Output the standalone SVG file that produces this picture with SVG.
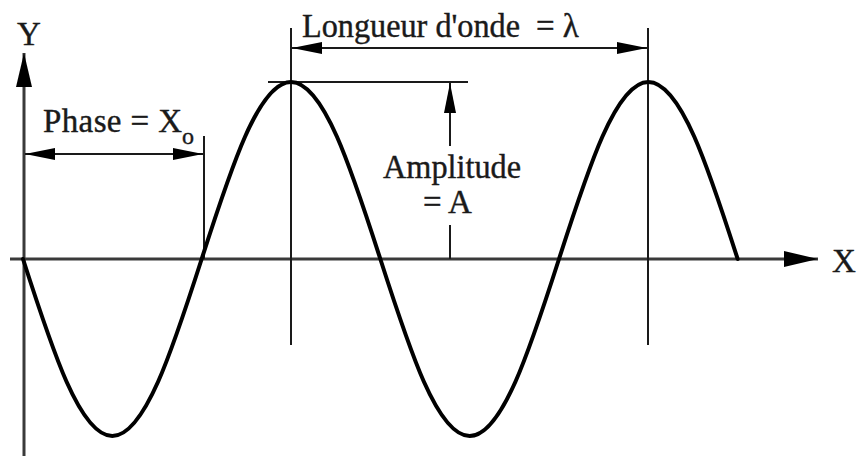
<svg xmlns="http://www.w3.org/2000/svg" width="858" height="459" viewBox="0 0 858 459">
  <style>
    .txt { font-family: "Liberation Serif", "Times New Roman", serif; font-size: 33px; fill: #1a1a1a; stroke: #1a1a1a; stroke-width: 0.4; }
    .sub { font-family: "Liberation Serif", "Times New Roman", serif; font-size: 24px; fill: #1a1a1a; stroke: #1a1a1a; stroke-width: 0.4; }
    .axis { stroke: #3a3a3a; stroke-width: 3; fill: none; }
    .thin { stroke: #1a1a1a; stroke-width: 2; fill: none; }
    .wave { stroke: #000; stroke-width: 4; fill: none; stroke-linecap: round; stroke-linejoin: round; }
  </style>
  <defs>
    <marker id="ah" markerUnits="userSpaceOnUse" viewBox="0 0 30 12" refX="30" refY="6" markerWidth="30" markerHeight="12" orient="auto-start-reverse">
      <path d="M0,0 L30,6 L0,12 Z" fill="#000"/>
    </marker>
    <marker id="axh" markerUnits="userSpaceOnUse" viewBox="0 0 34 16" refX="34" refY="8" markerWidth="34" markerHeight="16" orient="auto">
      <path d="M0,0 L34,8 L0,16 Z" fill="#000"/>
    </marker>
  </defs>
  <rect width="858" height="459" fill="#fff"/>

  <g id="connectors">
    <line id="x-axis" class="axis" x1="10" y1="259" x2="818" y2="259" marker-end="url(#axh)"/>
    <line id="y-axis" class="axis" x1="24" y1="456" x2="24" y2="53" marker-end="url(#axh)"/>
    <line class="thin" x1="204" y1="136" x2="204" y2="259"/>
    <line class="thin" x1="291" y1="28" x2="291" y2="345"/>
    <line class="thin" x1="648" y1="28" x2="648" y2="345"/>
    <line class="thin" x1="268" y1="82" x2="468" y2="82"/>
    <line id="phase-arrow" class="thin" x1="25" y1="154" x2="203" y2="154" marker-start="url(#ah)" marker-end="url(#ah)"/>
    <line id="wavelength-arrow" class="thin" x1="292" y1="48" x2="647" y2="48" marker-start="url(#ah)" marker-end="url(#ah)"/>
    <line id="amplitude-arrow" class="thin" x1="450" y1="146" x2="450" y2="83" marker-end="url(#ah)"/>
    <line class="thin" x1="450" y1="225" x2="450" y2="259"/>
  </g>

  <g id="wave">
    <path class="wave" d="M23,259 C52.13,349.68 80,436 112.33,436 C144.66,436 172.54,349.68 201.67,259 C230.8,168.32 258.67,82 291,82 C323.33,82 351.2,168.32 380.33,259 C409.46,349.68 437.33,436 469.67,436 C502,436 529.87,349.68 559,259 C588.13,168.32 616,82 648.33,82 C680.66,82 708.54,168.32 737.67,259"/>
  </g>

  <g id="label-y"><text class="txt" x="17" y="45">Y</text></g>
  <g id="label-x"><text class="txt" x="832" y="272">X</text></g>
  <g id="label-phase">
    <text class="txt" x="43" y="132" textLength="139" lengthAdjust="spacing">Phase = X</text>
    <text class="sub" x="182" y="144">o</text>
  </g>
  <g id="label-wavelength">
    <text class="txt" x="302" y="37" textLength="218" lengthAdjust="spacingAndGlyphs">Longueur d'onde</text>
    <text class="txt" x="536" y="37">= λ</text>
  </g>
  <g id="label-amplitude">
    <text class="txt" x="383" y="178" textLength="138" lengthAdjust="spacingAndGlyphs">Amplitude</text>
    <text class="txt" x="423" y="213">= A</text>
  </g>
</svg>
